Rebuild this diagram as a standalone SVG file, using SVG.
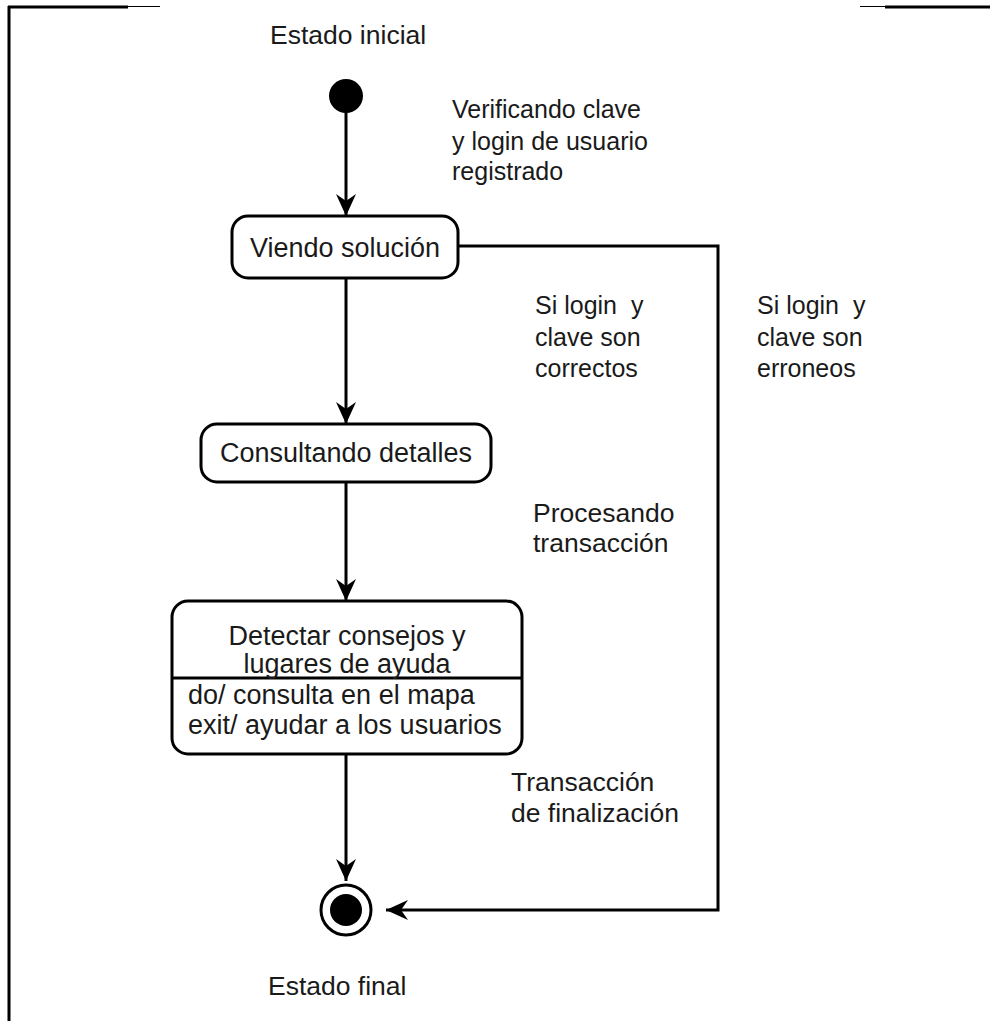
<svg xmlns="http://www.w3.org/2000/svg" width="990" height="1021" viewBox="0 0 990 1021">
  <style>
    text { font-family: "Liberation Sans", Arial, sans-serif; font-size: 25px; fill: #1a1a1a; white-space: pre; }
    .mid { text-anchor: middle; }
    .big { font-size: 27px; }
    .lbl { font-size: 26.5px; }
    .state { fill: #ffffff; stroke: #000000; stroke-width: 3; }
    .edge { fill: none; stroke: #000000; stroke-width: 3; }
    .frame { stroke: #000000; fill: none; }
  </style>
  <defs>
    <marker id="arrow" viewBox="-24 -12 26 24" refX="0" refY="0" markerWidth="26" markerHeight="24" markerUnits="userSpaceOnUse" orient="auto">
      <path d="M0,0 L-22,-10 L-15,0 L-22,10 Z" fill="#000000"/>
    </marker>
  </defs>

  <rect width="990" height="1021" fill="#ffffff"/>

  <!-- page frame -->
  <g id="frame">
    <line class="frame" x1="8" y1="7" x2="128" y2="7" stroke-width="3"/>
    <line class="frame" x1="128" y1="6.5" x2="160" y2="6.5" stroke-width="1"/>
    <line class="frame" x1="860" y1="6.5" x2="885" y2="6.5" stroke-width="1"/>
    <line class="frame" x1="885" y1="7" x2="990" y2="7" stroke-width="3"/>
    <line class="frame" x1="9" y1="6" x2="9" y2="1021" stroke-width="3"/>
  </g>

  <!-- connectors -->
  <g id="connectors">
    <line class="edge" x1="346" y1="112" x2="346" y2="216" marker-end="url(#arrow)"/>
    <polyline class="edge" points="458,246 718,246 718,910 386,910" marker-end="url(#arrow)"/>
    <line class="edge" x1="346" y1="278" x2="346" y2="424" marker-end="url(#arrow)"/>
    <line class="edge" x1="346" y1="482" x2="346" y2="601" marker-end="url(#arrow)"/>
    <line class="edge" x1="346" y1="754" x2="346" y2="881" marker-end="url(#arrow)"/>
  </g>

  <!-- transition labels -->
  <g id="labels">
    <text x="452" y="118">Verificando clave</text>
    <text x="452" y="150">y login de usuario</text>
    <text x="452" y="180">registrado</text>
    <text x="535" y="314">Si login  y</text>
    <text x="535" y="346">clave son</text>
    <text x="535" y="377">correctos</text>
    <text x="757" y="314">Si login  y</text>
    <text x="757" y="346">clave son</text>
    <text x="757" y="377">erroneos</text>
    <text class="lbl" x="533" y="522">Procesando</text>
    <text class="lbl" x="533" y="552">transacción</text>
    <text class="lbl" x="511" y="791">Transacción</text>
    <text class="lbl" x="511" y="822">de finalización</text>
  </g>

  <!-- initial state -->
  <g id="initial">
    <circle cx="346" cy="96" r="17" fill="#000000"/>
    <text class="lbl" x="270" y="44">Estado inicial</text>
  </g>

  <g id="viendo">
    <rect class="state" x="232" y="216" width="226" height="62" rx="16"/>
    <text class="mid big" x="345" y="257">Viendo solución</text>
  </g>

  <g id="consultando">
    <rect class="state" x="201" y="424" width="290" height="58" rx="16"/>
    <text class="mid big" x="346" y="462">Consultando detalles</text>
  </g>

  <g id="detectar">
    <rect class="state" x="172" y="601" width="350" height="153" rx="16"/>
    <line class="edge" x1="172" y1="678" x2="522" y2="678"/>
    <text class="mid big" x="347" y="645">Detectar consejos y</text>
    <text class="mid big" x="347" y="673">lugares de ayuda</text>
    <text class="big" x="188" y="704">do/ consulta en el mapa</text>
    <text class="big" x="188" y="734">exit/ ayudar a los usuarios</text>
  </g>

  <!-- final state -->
  <g id="final">
    <circle cx="346" cy="910" r="25" fill="#ffffff" stroke="#000000" stroke-width="3"/>
    <circle cx="346" cy="910" r="16" fill="#000000"/>
    <text class="lbl" x="268" y="995">Estado final</text>
  </g>
</svg>
